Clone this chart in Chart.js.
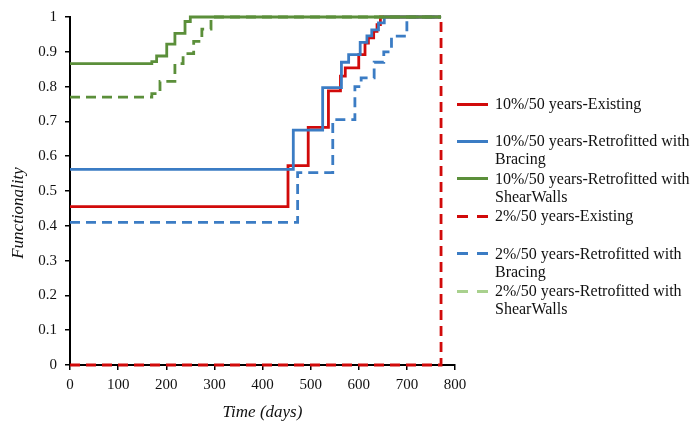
<!DOCTYPE html>
<html>
<head>
<meta charset="utf-8">
<script src="https://cdn.jsdelivr.net/npm/chart.js@4.4.1/dist/chart.umd.min.js"></script>
<style>
  body { margin: 0; background: #fff; }
  #wrap { position: relative; width: 694px; height: 426px; }
  #legend { position: absolute; left: 457px; top: 0; font-family: "Liberation Serif", serif; font-size: 16px; color: #111; }
  .item { position: absolute; left: 0; width: 240px; }
  .sample { position: absolute; left: 0; width: 31px; height: 3px; }
  .sample span { position: absolute; top: 0; height: 3px; }
  .txt { position: absolute; left: 38px; line-height: 18px; white-space: nowrap; }
</style>
</head>
<body>
<div id="wrap">
  <canvas id="chart" width="694" height="426"></canvas>
  <div id="legend"></div>
</div>
<script>
// Datos (dias / funcionalidad)
const seriesNames = [
  ["10%/50 years-Existing"],
  ["10%/50 years-Retrofitted with", "Bracing"],
  ["10%/50 years-Retrofitted with", "ShearWalls"],
  ["2%/50 years-Existing"],
  ["2%/50 years-Retrofitted with", "Bracing"],
  ["2%/50 years-Retrofitted with", "ShearWalls"]
];

const existing10Days = [0, 453, 495, 537, 562, 572, 600, 613, 620, 631, 638, 645, 771];
const existing10Vals = [0.455, 0.573, 0.683, 0.788, 0.83, 0.854, 0.892, 0.925, 0.94, 0.959, 0.978, 1, 1];

const bracing10Days = [0, 464, 525, 564, 579, 603, 617, 627, 641, 653, 771];
const bracing10Vals = [0.562, 0.675, 0.797, 0.87, 0.892, 0.927, 0.946, 0.963, 0.983, 1, 1];

const walls10Days = [0, 163, 170, 180, 201, 218, 239, 250, 771];
const walls10Vals = [0.866, 0.866, 0.872, 0.888, 0.922, 0.953, 0.987, 1, 1];

const existing2Days = [0, 771];
const existing2Vals = [0, 1];

const bracing2Days = [0, 473, 546, 592, 605, 632, 652, 668, 700, 771];
const bracing2Vals = [0.41, 0.553, 0.705, 0.8, 0.825, 0.87, 0.9, 0.945, 1, 1];

const walls2Days = [0, 170, 187, 218, 235, 257, 274, 293, 771];
const walls2Vals = [0.77, 0.78, 0.815, 0.866, 0.895, 0.93, 0.965, 1, 1];

const RED = "#d10a0a";
const BLUE = "#3b7cc4";
const GREEN = "#5b8f3a";
const LIGHT_GREEN = "#a9d18e";

function pts(days, vals) {
  return days.map((d, i) => ({ x: d, y: vals[i] }));
}

function serie(label, days, vals, color, dashed, order) {
  return {
    label: label,
    data: pts(days, vals),
    borderColor: color,
    borderWidth: 2.8,
    borderDash: dashed ? [10, 6] : [],
    stepped: true,
    pointRadius: 0,
    fill: false,
    clip: 5,
    order: order
  };
}

const datasets = [
  serie(seriesNames[0].join(" "), existing10Days, existing10Vals, RED, false, 4),
  serie(seriesNames[1].join(" "), bracing10Days, bracing10Vals, BLUE, false, 3),
  serie(seriesNames[2].join(" "), walls10Days, walls10Vals, GREEN, false, 1),
  serie(seriesNames[3].join(" "), existing2Days, existing2Vals, RED, true, 0),
  serie(seriesNames[4].join(" "), bracing2Days, bracing2Vals, BLUE, true, 5),
  serie(seriesNames[5].join(" "), walls2Days, walls2Vals, GREEN, true, 2)
];
// la leyenda usa verde claro para la ultima serie
const legendColors = [RED, BLUE, GREEN, RED, BLUE, LIGHT_GREEN];

// titulo del eje Y dibujado a mano (no esta centrado en el area)
const yTitlePlugin = {
  id: "yTitle",
  afterDraw(chart) {
    const ctx = chart.ctx;
    ctx.save();
    ctx.translate(19, 213);
    ctx.rotate(-Math.PI / 2);
    ctx.font = "italic 17px 'Liberation Serif'";
    ctx.fillStyle = "#111";
    ctx.textAlign = "center";
    ctx.textBaseline = "middle";
    ctx.fillText("Functionality", 0, 0);
    ctx.restore();
  }
};

new Chart(document.getElementById("chart").getContext("2d"), {
  type: "line",
  data: { datasets: datasets },
  options: {
    responsive: false,
    animation: false,
    layout: { padding: { left: 0, top: 16, right: 239, bottom: 0 } },
    plugins: { legend: { display: false }, tooltip: { enabled: false } },
    scales: {
      x: {
        type: "linear",
        min: 0,
        max: 800,
        ticks: { stepSize: 100, color: "#111", padding: 6, font: { family: "Liberation Serif", size: 15 } },
        grid: { display: true, drawOnChartArea: false, drawTicks: true, tickLength: 5, color: "#000", lineWidth: 1.5 },
        border: { color: "#000", width: 2 },
        title: {
          display: true,
          text: "Time (days)",
          color: "#111",
          padding: { top: 0, bottom: 3 },
          font: { family: "Liberation Serif", size: 17, style: "italic" }
        },
        afterFit(scale) { scale.height = 61; }
      },
      y: {
        min: 0,
        max: 1,
        ticks: {
          stepSize: 0.1,
          color: "#111",
          padding: 8,
          font: { family: "Liberation Serif", size: 15 },
          callback: v => String(+v.toFixed(1))
        },
        grid: { display: true, drawOnChartArea: false, drawTicks: true, tickLength: 5, color: "#000", lineWidth: 1.5 },
        border: { color: "#000", width: 2 },
        afterFit(scale) { scale.width = 70; }
      }
    }
  },
  plugins: [yTitlePlugin]
});

// Leyenda HTML a la derecha
const legendEl = document.getElementById("legend");
seriesNames.forEach((lines, i) => {
  const cy = 104 + i * 37.4;
  const item = document.createElement("div");
  item.className = "item";
  item.style.top = (cy - 9) + "px";
  const sample = document.createElement("div");
  sample.className = "sample";
  sample.style.top = "7.5px";
  const segs = i < 3 ? [[0, 31]] : [[0, 11], [20, 11]];
  segs.forEach(s => {
    const sp = document.createElement("span");
    sp.style.left = s[0] + "px";
    sp.style.width = s[1] + "px";
    sp.style.background = legendColors[i];
    sample.appendChild(sp);
  });
  const txt = document.createElement("div");
  txt.className = "txt";
  txt.innerHTML = lines.join("<br>");
  item.appendChild(sample);
  item.appendChild(txt);
  legendEl.appendChild(item);
});
</script>
</body>
</html>
